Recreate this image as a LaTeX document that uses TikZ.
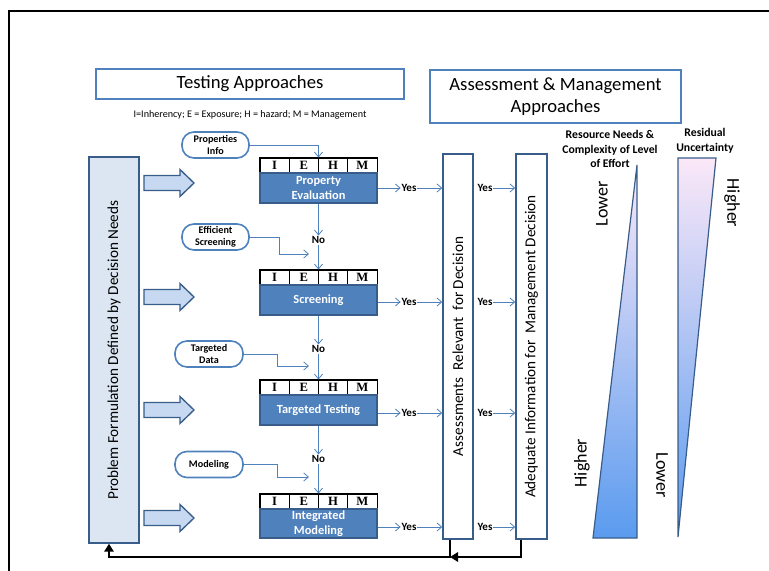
\documentclass[tikz,border=0pt]{standalone}
\usepackage{fontspec}
\setmainfont{Carlito}
\newfontfamily\iehmfont{Liberation Serif}
\usetikzlibrary{arrows.meta,calc}
\definecolor{lblue}{HTML}{4F81BD}
\definecolor{dblue}{HTML}{385D8A}
\definecolor{pfill}{HTML}{DCE6F2}
\definecolor{afill}{HTML}{C6D9F1}
\definecolor{gtop}{HTML}{FBE8F8}
\definecolor{gmid}{HTML}{A9C8F3}
\definecolor{gbot}{HTML}{5A9BEF}
\newcommand\iehmrow[2]{%
  \node[iehmbar] (#1) at (318.5,{#2+7.5}) {};
  \foreach \L [count=\i] in {I,E,H,M}
    \node[iehmcell] at ({260+(\i-0.5)*29.25},{#2+7.5}) {\L};
}
\begin{document}
\begin{tikzpicture}[x=0.75pt,y=-0.75pt,
  titlebox/.style={draw=lblue,line width=1.5pt,fill=white,inner sep=0pt,align=center,font=\fontsize{14}{17}\selectfont},
  stagebox/.style={draw=dblue,fill=lblue,line width=0.9pt,text=white,inner sep=0pt,align=center,
     font=\bfseries\fontsize{9.3}{11}\selectfont,minimum width={117*0.75pt}},
  iehmbar/.style={draw=black,fill=white,line width=0.8pt,minimum width={117*0.75pt},minimum height={15*0.75pt},inner sep=0pt},
  iehmcell/.style={draw=black,fill=white,line width=0.6pt,minimum width={29.25*0.75pt},minimum height={15*0.75pt},inner sep=0pt,
     font=\iehmfont\bfseries\fontsize{9.5}{10}\selectfont},
  oval/.style={draw=lblue,line width=1.2pt,fill=white,rounded corners=9pt,inner sep=0pt,align=center,
     font=\bfseries\fontsize{7.6}{9}\selectfont,minimum height={26*0.75pt}},
  lab/.style={inner sep=0.5pt,font=\bfseries\fontsize{8.3}{9}\selectfont},
  colbox/.style={draw=dblue,line width=1.1pt,fill=white,inner sep=0pt,minimum height={385*0.75pt}},
  coltext/.style={font=\fontsize{11.4}{13}\selectfont,inner sep=0pt},
  conn/.style={draw=lblue,line width=0.6pt},
  arr/.style={conn,-{Straight Barb[length=3.5pt,width=6pt]}},
  fb/.style={draw=black,line width=2.2pt},
  fbarr/.style={fb,-{Triangle[length=6pt,width=7pt]}},
  blockarr/.style={draw=dblue,fill=afill,line width=1pt},
  grad/.style={top color=gtop,middle color=gmid,bottom color=gbot,draw=dblue,line width=0.9pt},
  sidelab/.style={font=\fontsize{13.5}{15}\selectfont,inner sep=0pt},
  headlab/.style={font=\bfseries\fontsize{8.8}{10.8}\selectfont,align=center,inner sep=0pt}
]
\useasboundingbox (0,0) rectangle (769,571);
% frame
\draw[line width=1.3pt] (9,571) -- (9,11) -- (769,11);

% titles
\node[titlebox,minimum width={308*0.75pt},minimum height={30*0.75pt}] (ta) at (250,84) {Testing Approaches};
\node[titlebox,minimum width={251*0.75pt},minimum height={53*0.75pt}] (ama) at (555.5,96.5) {Assessment \& Management\\Approaches};
\node[font=\fontsize{7.6}{8}\selectfont] (legend) at (250,115) {I=Inherency; E = Exposure; H = hazard; M = Management};

% left box
\node[draw=dblue,fill=pfill,line width=1.1pt,minimum width={50*0.75pt},minimum height={386*0.75pt},inner sep=0pt] (pf) at (114,350) {};
\node[coltext,rotate=90] (pft) at (pf.center) {Problem Formulation Defined by Decision Needs};

% block arrows
\foreach \c in {183,297,410,518}{
  \begin{scope}[shift={(0,\c)}]
    \draw[blockarr] (144,-7.5) -- (180,-7.5) -- (180,-13.5) -- (194,0) -- (180,13.5) -- (180,7.5) -- (144,7.5) -- cycle;
  \end{scope}
}

% stages
\iehmrow{r1}{158}
\node[stagebox,minimum height={30*0.75pt}] (pe) at (318.5,188) {Property\\Evaluation};
\iehmrow{r2}{270}
\node[stagebox,minimum height={30*0.75pt}] (sc) at (318.5,300) {Screening};
\iehmrow{r3}{380}
\node[stagebox,minimum height={30*0.75pt}] (tt) at (318.5,410) {Targeted Testing};
\iehmrow{r4}{494}
\node[stagebox,minimum height={29*0.75pt}] (im) at (318.5,523.5) {Integrated\\Modeling};

% ovals
\node[oval,minimum width={67*0.75pt}] (pi) at (215.5,145) {Properties\\Info};
\node[oval,minimum width={67*0.75pt}] (es) at (215.5,237) {Efficient\\Screening};
\node[oval,minimum width={68*0.75pt}] (td) at (209,354) {Targeted\\Data};
\node[oval,minimum width={68*0.75pt}] (mo) at (209,464.5) {Modeling};

% No labels
\node[lab] (no1) at (318.5,240) {No};
\node[lab] (no2) at (318.5,349) {No};
\node[lab] (no3) at (318.5,459) {No};

% vertical flow
\draw[arr] (pe.south) -- (no1.north);
\draw[arr] (no1.south) -- (r2.north);
\draw[arr] (sc.south) -- (no2.north);
\draw[arr] (no2.south) -- (r3.north);
\draw[arr] (tt.south) -- (no3.north);
\draw[arr] (no3.south) -- (r4.north);

% oval connectors
\draw[arr] (pi.east) -| (r1.north);
\coordinate (esin) at (309,254);
\coordinate (tdin) at (309,366);
\coordinate (moin) at (309,477);
\draw[arr] (es.east) -- ++(30,0) |- (esin);
\draw[arr] (td.east) -- ++(34,0) |- (tdin);
\draw[arr] (mo.east) -- ++(34,0) |- (moin);

% columns
\node[colbox,minimum width={30*0.75pt}] (ar) at (458,346.5) {};
\node[coltext,rotate=90] (art) at (ar.center) {Assessments\ \ Relevant\ \ for\ Decision};
\node[colbox,minimum width={31*0.75pt}] (ad) at (531.5,346.5) {};
\node[coltext,rotate=90] (adt) at (ad.center) {Adequate Information for\ \ Management Decision};

% Yes labels and arrows
\foreach \s/\yy [count=\k] in {pe/188,sc/302,tt/413,im/527}{
  \node[lab] (ya\k) at (409,\yy) {Yes};
  \node[lab] (yb\k) at (485,\yy) {Yes};
  \draw[arr] (\s.east |- ya\k) -- (ya\k.west);
  \draw[arr] (ya\k.east) -- (ar.west |- ya\k);
  \draw[arr] (yb\k.east) -- (ad.west |- yb\k);
}

% feedback
\coordinate (m1) at (521,557);
\coordinate (m2) at (450,557);
\coordinate (m3) at (109,557);
\draw[fbarr] (ad.south -| m1) -- (m1) -- (m2);
\draw[fbarr] (ar.south -| m2) -- (m2) -- (m3) -- (pf.south -| m3);

% gradient triangles
\shade[grad] (637,165) -- (637,538) -- (593,538) -- cycle;
\shade[grad] (678,158) -- (716,158) -- (678,537) -- cycle;
\node[headlab] (rn) at (610,149) {Resource Needs \&\\Complexity of Level\\of Effort};
\node[headlab] (ru) at (705,141) {Residual\\Uncertainty};
\node[sidelab,rotate=90] (lo1) at (602,204) {Lower};
\node[sidelab,rotate=90] (hi1) at (582,463) {Higher};
\node[sidelab,rotate=-90] (hi2) at (732,203) {Higher};
\node[sidelab,rotate=-90] (lo2) at (662,475) {Lower};
\end{tikzpicture}
\end{document}
